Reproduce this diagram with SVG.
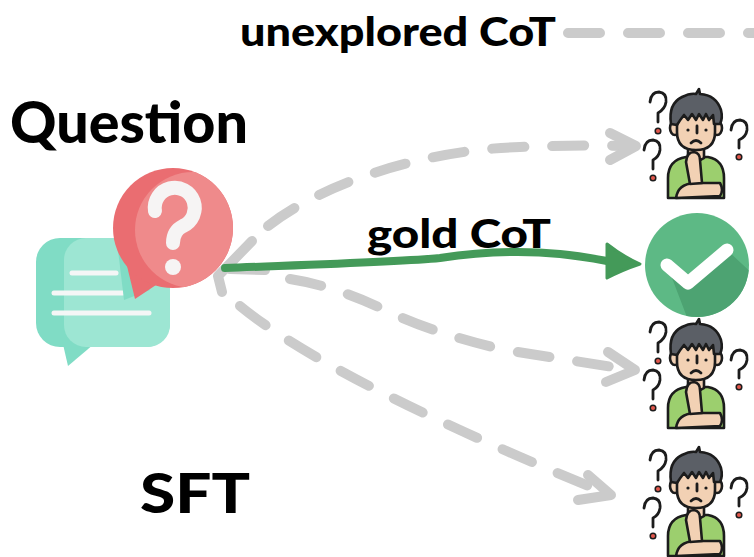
<svg xmlns="http://www.w3.org/2000/svg" xmlns:xlink="http://www.w3.org/1999/xlink" width="754" height="557" viewBox="0 0 754 557">
  <style>
    .lbl { font-family: "Lato", "Noto Sans", "Liberation Sans", sans-serif; font-weight: 900; fill: #000; }
    .dash { fill: none; stroke: #cbcbcb; stroke-width: 10; stroke-linecap: round; stroke-linejoin: round; stroke-dasharray: 32 28; }
    .head { fill: none; stroke: #cbcbcb; stroke-width: 10; stroke-linecap: round; stroke-linejoin: round; }
    .ol { stroke: #1c1c1c; stroke-width: 2.6; stroke-linejoin: round; stroke-linecap: round; }
    .qm { fill: none; stroke: #1c1c1c; stroke-width: 2.8; stroke-linecap: round; stroke-linejoin: round; }
    .qd { fill: #e2574c; stroke: #1c1c1c; stroke-width: 1.5; }
  </style>
  <defs>
    <clipPath id="redClip"><circle cx="173" cy="228" r="60"/></clipPath>
    <clipPath id="greenClip"><circle cx="697" cy="265" r="52"/></clipPath>
    <!-- puzzled person with question marks, local 134x130 box -->
    <g id="thinker">
      <!-- question marks -->
      <path class="qm" d="M30,22 Q31,12 39,12 Q47,13 46,22 Q45,29 38,33 L38,42"/>
      <circle class="qd" cx="38" cy="51" r="2.8"/>
      <path class="qm" d="M24,70 Q25,60 33,60 Q41,61 40,70 Q39,77 33,80 L33,89"/>
      <circle class="qd" cx="33" cy="98" r="2.8"/>
      <path class="qm" d="M111,50 Q112,40 120,40 Q128,41 127,50 Q126,57 119,60 L119,68"/>
      <circle class="qd" cx="119" cy="77" r="2.8"/>
      <!-- shirt -->
      <path class="ol" fill="#9ccf6e" d="M48,118 V98 Q48,80 66,77 H88 Q104,80 104,98 V118 Z"/>
      <!-- neck -->
      <path class="ol" fill="#f2d1b4" d="M68,66 V78 Q76,84 84,78 V66 Z"/>
      <!-- forearm across chest -->
      <path class="ol" fill="#f2d1b4" d="M56,118 Q58,104 74,103 H100 Q104,110 100,116 Z"/>
      <!-- hand at chin -->
      <path class="ol" fill="#f2d1b4" d="M70,104 L66,82 Q67,72 74,72 Q80,73 80,80 L82,103 Z"/>
      <!-- ears -->
      <ellipse class="ol" fill="#f2d1b4" cx="55" cy="48" rx="5" ry="7"/>
      <ellipse class="ol" fill="#f2d1b4" cx="97" cy="48" rx="5" ry="7"/>
      <!-- face -->
      <path class="ol" fill="#f2d1b4" d="M57,34 V52 Q57,70 76,70 Q95,70 95,52 V34 Z"/>
      <!-- hair -->
      <path class="ol" fill="#5b5f66" d="M51,44 Q48,24 62,17 Q70,13 76,14 L79,9 L80,14 Q96,15 101,30 Q103,38 100,44 L94,44 L93,35 L89,40 L86,34 L83,40 L79,34 L76,40 L72,34 L68,40 L64,35 Q60,40 57,45 Z"/>
      <!-- nose and frown -->
      <path class="qm" d="M77,46 L77,53"/>
      <path class="qm" d="M71,63 Q76,58 81,63"/>
      <circle cx="68" cy="50" r="1.6" fill="#1c1c1c"/>
      <circle cx="86" cy="50" r="1.6" fill="#1c1c1c"/>
    </g>
  </defs>

  <rect width="754" height="557" fill="#ffffff"/>

  <!-- labels -->
  <g id="labels">
    <text class="lbl" x="240" y="46" font-size="40" textLength="316" lengthAdjust="spacingAndGlyphs">unexplored CoT</text>
    <text class="lbl" x="10" y="143" font-size="58" textLength="238" lengthAdjust="spacingAndGlyphs">Question</text>
    <text class="lbl" x="367" y="248" font-size="40" textLength="184" lengthAdjust="spacingAndGlyphs">gold CoT</text>
    <text class="lbl" x="140" y="513" font-size="56" textLength="110" lengthAdjust="spacingAndGlyphs">SFT</text>
  </g>

  <!-- question icon: chat bubble with red question bubble -->
  <g id="question">
    <rect x="36" y="238" width="134" height="109" rx="24" fill="#80dcc5"/>
    <path d="M62,340 L68,366 L94,344 Z" fill="#80dcc5"/>
    <rect x="64" y="238" width="106" height="109" rx="22" fill="#9de6d3"/>
    <g stroke="#f4f6f6" stroke-width="5" stroke-linecap="round">
      <line x1="72" y1="273" x2="116" y2="273"/>
      <line x1="54" y1="293" x2="123" y2="293"/>
      <line x1="54" y1="313" x2="149" y2="313"/>
    </g>
    <path d="M118,250 L124,300 L150,290 Z" fill="#80dcc5"/>
    <path d="M127,266 L135,299 L162,281 Z" fill="#ea6d71"/>
    <circle cx="173" cy="228" r="60" fill="#ea6d71"/>
    <circle cx="193" cy="230" r="58" fill="#ef8a8b" clip-path="url(#redClip)"/>
    <path d="M155,211 A20,20 0 1 1 183,226 Q173,231 173,243" fill="none" stroke="#f6f4f4" stroke-width="14" stroke-linecap="round" stroke-linejoin="round"/>
    <circle cx="173" cy="267" r="8" fill="#f6f4f4"/>
  </g>

  <!-- gold answer icon -->
  <g id="gold">
    <circle cx="697" cy="265" r="52" fill="#5db985"/>
    <polygon points="667,265 688,283 727,250 770,290 720,340 690,325" fill="#4da372" clip-path="url(#greenClip)"/>
    <path d="M667,265 L688,283 L727,250" fill="none" stroke="#ffffff" stroke-width="13" stroke-linecap="round" stroke-linejoin="round"/>
  </g>

  <!-- unexplored answers -->
  <use id="thinker-top" xlink:href="#thinker" transform="translate(620,80)"/>
  <use id="thinker-mid" xlink:href="#thinker" transform="translate(620,310)"/>
  <use id="thinker-bottom" xlink:href="#thinker" transform="translate(620,438)"/>

  <!-- connectors -->
  <g id="connectors">
    <path class="dash" d="M568,33 L754,33" stroke-dasharray="34 38"/>
    <path class="head" d="M252,241 L218,276 L222,292"/>
    <path class="head" d="M230,269 L265,270"/>
    <path class="dash" d="M268,226 C320,185 420,150 520,147 S600,146 632,146"/>
    <path class="head" d="M610,133 L636,146 L610,160"/>
    <path class="dash" d="M290,279 Q335,286 385,310 T505,350 L632,370"/>
    <path class="head" d="M608,352 L635,370 L606,382"/>
    <path class="dash" d="M240,306 Q330,380 608,494"/>
    <path class="head" d="M588,475 L611,495 L578,500"/>
    <path d="M225,268 C300,265 400,262 440,258 C480,252 520,250 560,254 C590,257 610,262 625,264" fill="none" stroke="#449a59" stroke-width="8" stroke-linecap="round"/>
    <path d="M607,244 Q622,256 640,264 Q622,270 607,278 Z" fill="#449a59" stroke="#449a59" stroke-width="3" stroke-linejoin="round"/>
  </g>
</svg>
